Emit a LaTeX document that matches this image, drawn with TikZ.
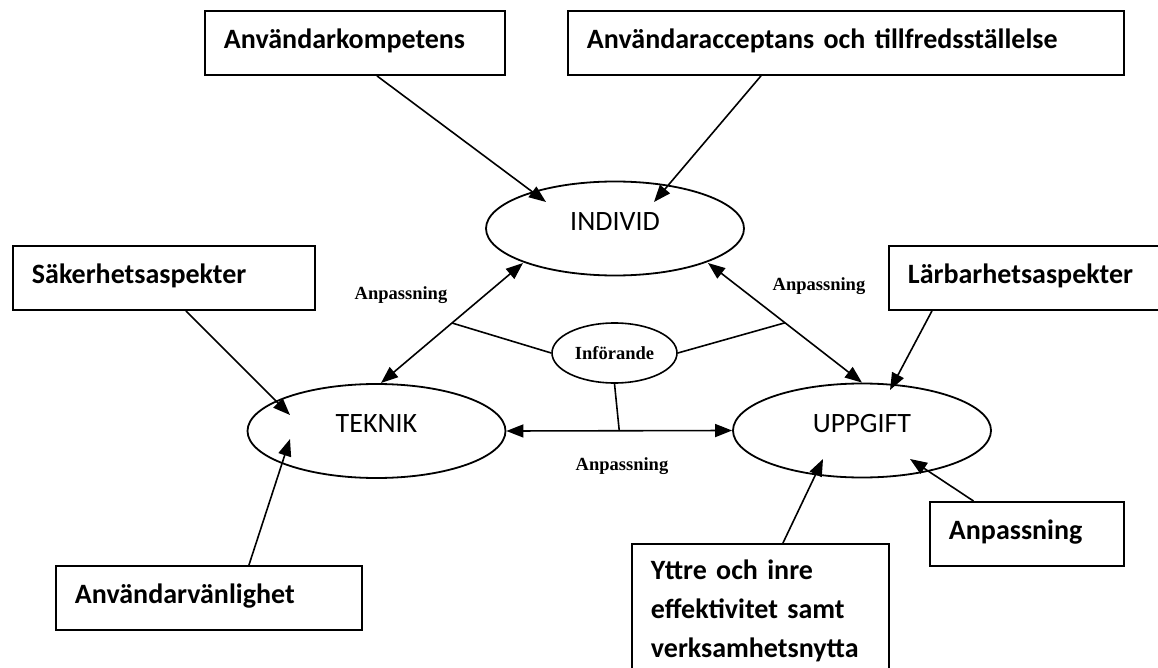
\documentclass[tikz,border=0pt]{standalone}
\usepackage{fontspec}
\usepackage{tikz}
\usetikzlibrary{arrows.meta}
\usetikzlibrary{shapes.geometric,calc}
\newfontfamily\calibri{Carlito}
\newfontfamily\tnr{Liberation Serif}

\tikzset{
    infobox/.style={draw, rectangle, line width=1.9pt, anchor=north west, align=left,
        inner xsep=19pt, font=\calibri\bfseries\fontsize{28}{39}\selectfont},
    onebox/.style={infobox, inner ysep=0pt, minimum height=64pt, text height=18pt, text depth=6pt},
    partnode/.style={draw, ellipse, line width=1.8pt, inner sep=0pt, minimum width=258pt,
        minimum height=94pt, font=\calibri\fontsize{28}{32}\selectfont, text height=17pt, text depth=14pt},
    smalllabel/.style={font=\tnr\bfseries\fontsize{18.5}{22}\selectfont, inner sep=0pt},
    pil/.style={line width=1.6pt, -{Triangle[length=17pt,width=13pt]}},
    dubbelpil/.style={line width=1.6pt, {Triangle[length=17pt,width=13pt]}-{Triangle[length=17pt,width=13pt]}}
}

\begin{document}
\begin{tikzpicture}[x=1pt,y=-1pt]
        \useasboundingbox[fill=white] (0,0) rectangle (1158,668);

        % boxes
        \node[onebox, text width=262pt] (kompetens) at (204,10) {Användarkompetens};
        \node[onebox, text width=518pt] (acceptans) at (567,10) {Användaracceptans och tillfredsställelse};
        \node[onebox, text width=264pt] (sakerhet) at (12,245) {Säkerhetsaspekter};
        \node[onebox, text width=239pt] (larbarhet) at (888,245) {Lärbarhetsaspekter};
        \node[onebox, text width=268pt] (vanlighet) at (55,565) {Användarvänlighet};
        \node[onebox, text width=156pt] (anpbox) at (929,501) {Anpassning};
        \node[infobox, text width=219pt, inner ysep=16pt] (yttre) at (631,543)
            {Yttre och inre\\effektivitet samt\\verksamhetsnytta};

        % ellipses
        \node[partnode] (individ) at (615,228.5) {INDIVID};
        \node[partnode] (teknik) at (376.5,431) {TEKNIK\hspace{14pt}};
        \node[partnode] (uppgift) at (862,430.5) {UPPGIFT};
        \node[draw, ellipse, line width=1.6pt, inner sep=0pt, minimum width=125pt, minimum height=60pt,
            font=\tnr\bfseries\fontsize{18.5}{22}\selectfont] (inforande) at (614.5,353) {Införande};

        % labels
        \node[smalllabel, anchor=base] (anpvanster) at (401,299) {Anpassning};
        \node[smalllabel, anchor=base] (anphoger) at (819,290) {Anpassning};
        \node[smalllabel, anchor=base] (anpnere) at (622,470) {Anpassning};

        % arrows from the boxes
        \draw[pil] ($(kompetens.south)+(22,0)$) -- ($(individ.center)+(-69,-26.5)$);
        \draw[pil] ($(acceptans.south)+(-85,0)$) -- ($(individ.center)+(39,-26.5)$);
        \draw[pil] ($(sakerhet.south)+(22,0)$) -- ($(teknik.center)+(-86.5,-16)$);
        \draw[pil] ($(vanlighet.north)+(40,0)$) -- ($(teknik.center)+(-86.5,8)$);
        \draw[pil] ($(larbarhet.south)+(-95.5,0)$) -- ($(uppgift.center)+(28,-40.5)$);
        \draw[pil] ($(anpbox.north)+(-53.5,0)$) -- ($(uppgift.center)+(48,28.5)$);
        \draw[pil] ($(yttre.north)+(22.5,0)$) -- ($(uppgift.center)+(-39,28.5)$);

        % triangle
        \coordinate (it1) at ($(individ.center)+(-92,34.5)$);
        \coordinate (it2) at ($(teknik.center)+(4.5,-48)$);
        \coordinate (iu1) at ($(individ.center)+(93,34.5)$);
        \coordinate (iu2) at (uppgift.north);
        \draw[dubbelpil] (it1) -- (it2);
        \draw[dubbelpil] (iu1) -- (iu2);
        \draw[dubbelpil] (teknik.east) -- (uppgift.west);

        % införande
        \draw[line width=1.6pt] (inforande.west) -- ($(it1)!0.5!(it2)$);
        \draw[line width=1.6pt] (inforande.east) -- ($(iu1)!0.5!(iu2)$);
        \draw[line width=1.6pt] (inforande.south) -- ($(teknik.east)!0.5!(uppgift.west)$);

    \end{tikzpicture}
\end{document}
